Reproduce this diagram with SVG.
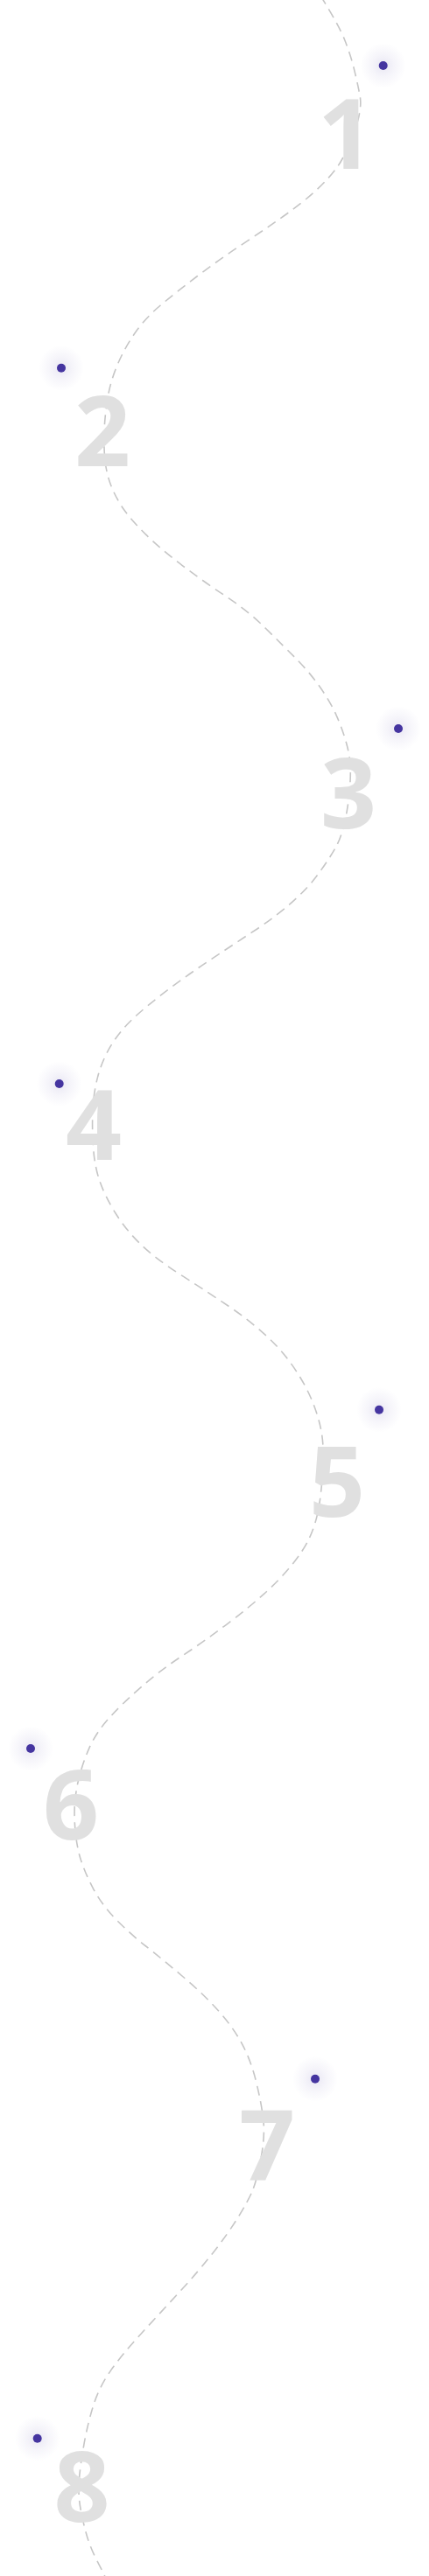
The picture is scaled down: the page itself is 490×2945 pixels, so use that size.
<svg xmlns="http://www.w3.org/2000/svg" width="490" height="2945" viewBox="0 0 490 2945">
<defs>
<radialGradient id="glow">
<stop offset="0" stop-color="#4535a0" stop-opacity="0.12"/>
<stop offset="0.5" stop-color="#4535a0" stop-opacity="0.05"/>
<stop offset="1" stop-color="#4535a0" stop-opacity="0"/>
</radialGradient>
<style>
.path{fill:none;stroke:#c6c6c6;stroke-width:1.6;stroke-dasharray:11 7}
.num{font-family:"Open Sans","Noto Sans","DejaVu Sans",sans-serif;font-weight:700;font-size:112px;fill:#e0e0e0;text-anchor:middle}
.glow{fill:url(#glow)}
.dot{fill:#4535a0}
</style>
</defs>
<rect width="490" height="2945" fill="#ffffff"/>
<g id="connectors">
<path class="path" d="M 366 -5 Q 386.7 28.3 393.35 44.8 Q 400 61.3 404.15 77.85 Q 408.3 94.4 411.15 109.7 Q 414 125 404.5 151 Q 395 177 385.85 190 Q 376.7 203 361.7 217 Q 346.7 231 323.35 247.5 Q 300 264 275 280.5 Q 250 297 225 316 Q 200 335 183.35 349 Q 166.7 363 155 379.5 Q 143.3 396 135 415 Q 126.7 434 123.35 453 Q 120 472 119.15 491 Q 118.3 510 120 526.35 Q 121.7 542.7 127.5 556.85 Q 133.3 571 141.65 582.8 Q 150 594.6 166.65 611.15 Q 183.3 627.7 208.3 646.55 Q 233.3 665.4 258.3 681.9 Q 283.3 698.4 303.3 718.2 Q 323.3 738 338.3 753.15 Q 353.3 768.3 365 784.8 Q 376.7 801.3 384.2 817.85 Q 391.7 834.4 396.6 853.2 Q 401.5 872 399.9 895.5 Q 398.3 919 394.15 938 Q 390 957 383.35 968.85 Q 376.7 980.7 365 997.2 Q 353.3 1013.7 335 1030.2 Q 316.7 1046.7 291.7 1063.25 Q 266.7 1079.8 241.7 1096.3 Q 216.7 1112.8 191.7 1131.7 Q 166.7 1150.6 151.7 1164.75 Q 136.7 1178.9 126.7 1195.45 Q 116.7 1212 111.7 1230.85 Q 106.7 1249.7 105.85 1270.85 Q 105 1292 106.65 1313.3 Q 108.3 1334.6 114.15 1351.1 Q 120 1367.6 131.65 1386.5 Q 143.3 1405.4 160 1421.9 Q 176.7 1438.4 208.35 1458.7 Q 240 1479 261.65 1493.65 Q 283.3 1508.3 301.65 1524.8 Q 320 1541.3 333.35 1560.15 Q 346.7 1579 355 1597.95 Q 363.3 1616.9 366.9 1635.75 Q 370.5 1654.6 368.6 1682.8 Q 366.7 1711 363.35 1727.5 Q 360 1744 353.35 1758.3 Q 346.7 1772.6 333.35 1789.1 Q 320 1805.6 301.65 1822.15 Q 283.3 1838.7 258.3 1857.55 Q 233.3 1876.4 208.3 1892.9 Q 183.3 1909.4 161.65 1928.3 Q 140 1947.2 125 1963.7 Q 110 1980.2 101.65 1999.1 Q 93.3 2018 88.65 2039.25 Q 84 2060.5 85.35 2084.1 Q 86.7 2107.7 91.7 2124.2 Q 96.7 2140.7 106.7 2159.55 Q 116.7 2178.4 133.35 2195.2 Q 150 2212 166.65 2225 Q 183.3 2238 208.3 2259.25 Q 233.3 2280.5 250 2299.4 Q 266.7 2318.3 276.7 2337.15 Q 286.7 2356 292.5 2379.6 Q 298.3 2403.2 300.65 2422.1 Q 303 2441 298.15 2466.95 Q 293.3 2492.9 288.3 2504.7 Q 283.3 2516.5 271.65 2535.35 Q 260 2554.2 243.35 2575.45 Q 226.7 2596.7 205 2620.3 Q 183.3 2643.9 161.65 2667.45 Q 140 2691 126.65 2709.9 Q 113.3 2728.8 106.65 2750.05 Q 100 2771.3 95.85 2794.9 Q 91.7 2818.5 90.35 2835 Q 89 2851.5 92 2868.05 Q 95 2884.6 99.15 2898.75 Q 103.3 2912.9 110 2925.85 Q 116.7 2938.8 122 2950"/>
</g>
<g id="step-1">
<circle class="glow" cx="437.7" cy="75" r="26"/>
<circle class="dot" cx="437.7" cy="75" r="5"/>
<text class="num" x="395" y="193">1</text>
</g>
<g id="step-2">
<circle class="glow" cx="70" cy="420.7" r="26"/>
<circle class="dot" cx="70" cy="420.7" r="5"/>
<text class="num" x="117" y="533">2</text>
</g>
<g id="step-3">
<circle class="glow" cx="455" cy="833" r="26"/>
<circle class="dot" cx="455" cy="833" r="5"/>
<text class="num" x="398" y="947">3</text>
</g>
<g id="step-4">
<circle class="glow" cx="67.7" cy="1239" r="26"/>
<circle class="dot" cx="67.7" cy="1239" r="5"/>
<text class="num" x="107" y="1326">4</text>
</g>
<g id="step-5">
<circle class="glow" cx="433" cy="1611.7" r="26"/>
<circle class="dot" cx="433" cy="1611.7" r="5"/>
<text class="num" x="385" y="1734">5</text>
</g>
<g id="step-6">
<circle class="glow" cx="35" cy="1999" r="26"/>
<circle class="dot" cx="35" cy="1999" r="5"/>
<text class="num" x="81" y="2103">6</text>
</g>
<g id="step-7">
<circle class="glow" cx="360" cy="2376.7" r="26"/>
<circle class="dot" cx="360" cy="2376.7" r="5"/>
<text class="num" x="305" y="2492">7</text>
</g>
<g id="step-8">
<circle class="glow" cx="42.7" cy="2787.7" r="26"/>
<circle class="dot" cx="42.7" cy="2787.7" r="5"/>
<text class="num" x="93.5" y="2883">8</text>
</g>
</svg>
